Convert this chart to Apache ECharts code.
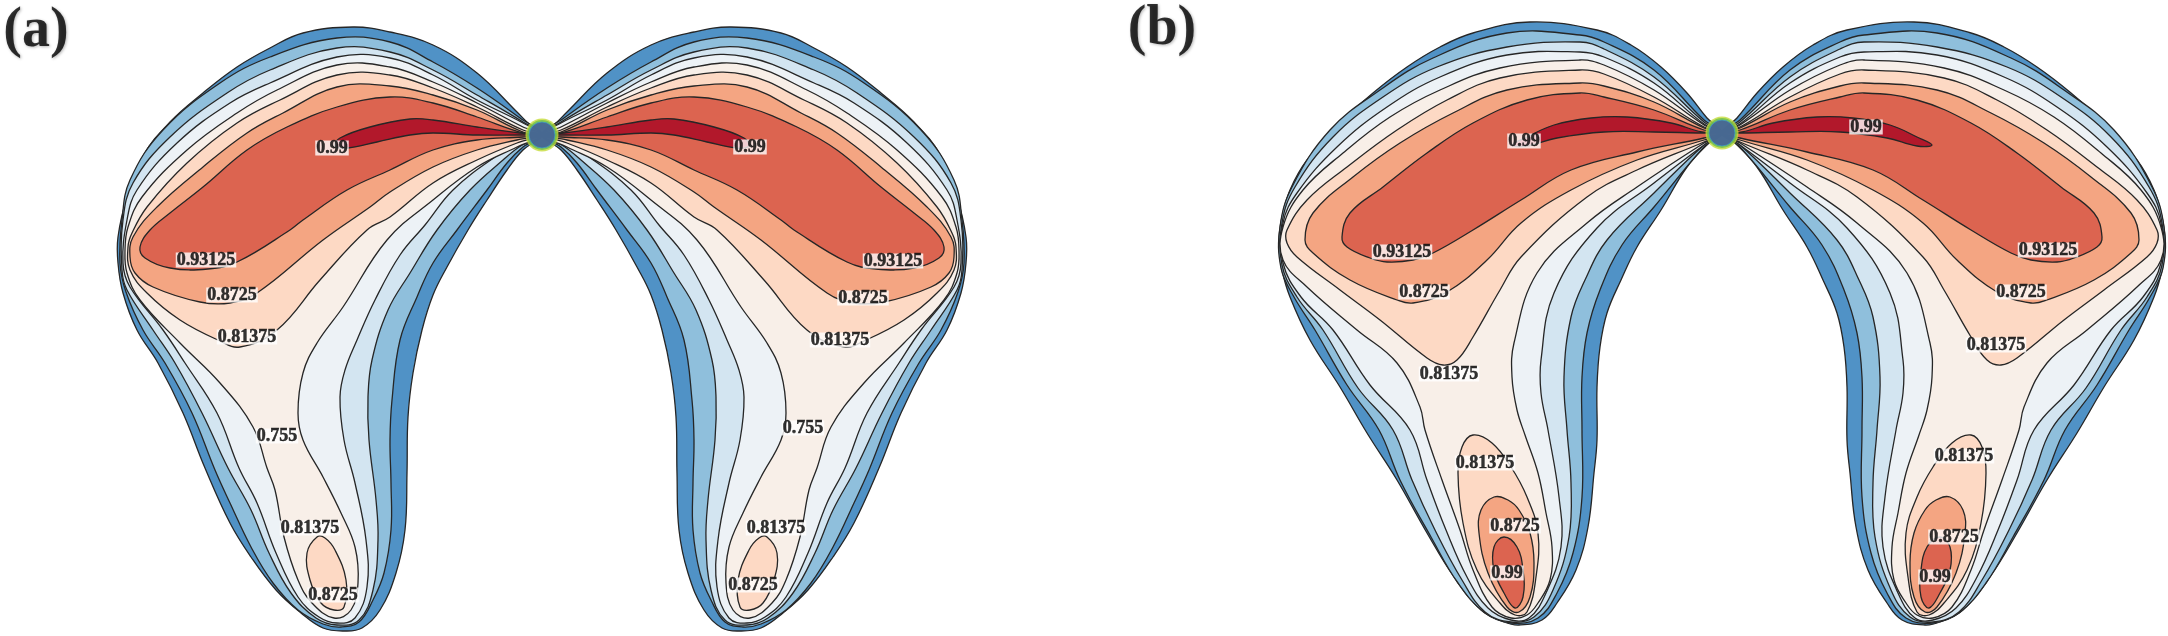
<!DOCTYPE html>
<html><head><meta charset="utf-8"><style>html,body{margin:0;padding:0;background:#fff}#c{width:2168px;height:636px}</style>
<script src="https://cdn.jsdelivr.net/npm/echarts@6/dist/echarts.min.js"></script></head><body><div id="c"></div>
<script>
const bandColors=['#5092c6','#8fbfdc','#d3e5f1','#edf2f6','#f8efe8','#fdd9c4','#f4a582','#dc6450','#b2182b'];
const centerA=[542,135], centerB=[1722,133];
// panel (a) contours, left lobe
const a0=[[528,123],[517,112],[477,73],[433,45],[390,32],[353,27],[303,33],[270,48],[237,67],[203,93],[170,122],[143,156],[127,197],[118,237],[118,263],[123,293],[137,330],[158,363],[183,413],[205,468],[230,523],[251,557],[276,590],[301,613],[323,628],[344,631],[362,628],[380,610],[396,573],[405,530],[407,473],[408,417],[413,373],[422,330],[433,295],[447,267],[468,230],[487,200],[507,170],[523,150]];
const a1=[[520,118],[477,88],[433,62],[390,42],[337,38],[270,57],[220,83],[163,130],[130,180],[122,220],[120,263],[126,292],[143,330],[165,363],[192,413],[215,470],[230,503],[251,547],[273,583],[298,610],[323,624],[341,627],[359,622],[373,600],[384,573],[391,530],[391,483],[390,440],[392,400],[400,340],[417,297],[433,263],[457,230],[487,190],[507,163],[523,147]];
const a2=[[523,122],[477,95],[433,70],[390,52],[337,48],[270,70],[227,93],[170,137],[133,183],[123,220],[122,270],[127,290],[153,330],[175,363],[202,413],[228,468],[251,510],[269,553],[291,593],[316,618],[337,625],[359,620],[373,590],[378,540],[376,500],[369,440],[368,397],[372,360],[388,310],[410,273],[437,230],[470,190],[503,160],[522,145]];
const a3=[[523,123],[477,100],[433,75],[390,58],[337,57],[270,83],[230,103],[177,143],[137,190],[127,220],[123,263],[130,287],[163,330],[185,363],[217,413],[239,468],[257,503],[276,553],[298,597],[319,617],[337,623],[355,618],[367,587],[366,540],[355,483],[344,440],[340,397],[345,370],[357,340],[375,300],[400,255],[425,225],[453,190],[495,157],[521,143]];
const a4=[[523,127],[477,103],[433,82],[390,67],[337,65],[277,90],[237,113],[187,150],[142,197],[128,227],[125,250],[127,273],[140,300],[180,343],[220,383],[253,427],[267,468],[275,490],[284,537],[298,580],[312,603],[334,618],[351,610],[358,583],[355,547],[341,513],[323,477],[303,440],[298,413],[303,373],[317,343],[343,307],[387,240],[433,200],[477,167],[517,147]];
const a5=[[523,130],[477,107],[433,88],[390,75],[337,75],[280,100],[237,123],[187,163],[147,207],[132,233],[128,247],[130,270],[147,293],[180,320],[218,340],[240,347],[277,330],[320,280],[367,230],[390,217],[433,183],[477,160],[517,143]];
const a5island=[[317,537],[307,553],[310,580],[321,603],[334,610],[344,607],[346,580],[335,550],[325,538]];
const a6=[[523,132],[477,110],[433,95],[390,86],[337,87],[283,113],[247,133],[203,167],[157,207],[133,237],[130,257],[135,273],[153,287],[200,302],[230,303],[257,293],[323,240],[370,207],[390,192],[433,167],[477,150],[517,140]];
const a7=[[523,133],[477,117],[433,103],[390,97],[337,107],[287,127],[247,150],[203,187],[170,213],[150,230],[140,247],[145,258],[170,268],[208,269],[237,262],[290,230],[303,220],[347,190],[390,170],[433,150],[477,140],[523,137]];
const a8=[[520,133],[477,127],[433,120],[410,119],[370,127],[340,138],[335,146],[348,148],[377,142],[410,135],[433,133],[477,135],[520,135]];
// panel (b) contours, left lobe
const b0=[[1707,118],[1687,93],[1661,67],[1631,45],[1597,30],[1530,22],[1473,33],[1440,47],[1407,67],[1373,93],[1340,123],[1307,160],[1290,190],[1282,217],[1279,237],[1279,247],[1282,270],[1290,297],[1310,340],[1340,387],[1367,433],[1397,480],[1427,533],[1454,577],[1481,610],[1504,622],[1519,625],[1542,620],[1557,603],[1576,570],[1588,527],[1594,473],[1597,440],[1597,387],[1600,347],[1607,313],[1621,280],[1637,247],[1661,210],[1687,167],[1709,143]];
const b1=[[1704,120],[1654,70],[1604,42],[1580,35],[1507,33],[1433,58],[1380,90],[1330,130],[1292,187],[1280,227],[1281,268],[1294,297],[1315,330],[1347,385],[1379,430],[1400,480],[1431,537],[1458,583],[1485,613],[1511,623],[1538,618],[1557,593],[1573,553],[1582,497],[1582,430],[1582,377],[1587,333],[1600,290],[1622,245],[1654,207],[1704,147]];
const b2=[[1704,122],[1654,77],[1604,49],[1580,42],[1507,47],[1437,67],[1383,97],[1333,137],[1295,187],[1282,223],[1282,265],[1297,297],[1323,330],[1358,388],[1393,430],[1412,480],[1435,530],[1462,580],[1485,612],[1511,622],[1534,617],[1553,590],[1569,537],[1571,483],[1567,430],[1564,377],[1571,317],[1585,280],[1607,240],[1654,193],[1704,145]];
const b3=[[1704,124],[1654,83],[1604,57],[1580,52],[1507,55],[1440,77],[1387,107],[1337,147],[1297,193],[1283,223],[1283,263],[1301,297],[1333,330],[1370,385],[1410,430],[1427,480],[1446,530],[1467,577],[1488,608],[1511,620],[1529,618],[1546,593],[1561,547],[1559,497],[1548,430],[1541,393],[1541,360],[1554,293],[1597,228],[1654,183],[1704,145]];
const b4=[[1704,125],[1654,90],[1604,65],[1580,60],[1500,68],[1440,90],[1390,117],[1343,153],[1303,190],[1283,227],[1283,260],[1307,287],[1357,330],[1397,363],[1420,407],[1425,430],[1442,480],[1460,530],[1473,570],[1492,607],[1511,618],[1527,615],[1538,603],[1550,580],[1552,547],[1546,513],[1538,473],[1525,435],[1517,410],[1512,377],[1514,343],[1537,273],[1587,223],[1637,187],[1704,143]];
const b5=[[1704,127],[1654,97],[1604,74],[1580,70],[1500,78],[1447,100],[1397,130],[1347,167],[1307,200],[1287,230],[1287,243],[1297,257],[1340,290],[1380,320],[1427,358],[1443,365],[1457,360],[1473,337],[1500,290],[1521,257],[1587,197],[1637,170],[1704,142]];
const b5island=[[1473,435],[1462,447],[1458,473],[1463,523],[1477,570],[1500,603],[1515,615],[1527,612],[1536,577],[1538,533],[1527,497],[1511,467],[1492,443]];
const b6=[[1704,128],[1654,102],[1604,86],[1580,83],[1507,90],[1453,113],[1400,143],[1353,177],[1313,213],[1305,240],[1313,253],[1350,280],[1397,300],[1413,303],[1447,292],[1487,260],[1521,223],[1571,190],[1637,160],[1704,140]];
const b6island=[[1494,497],[1481,510],[1479,533],[1488,573],[1507,607],[1519,612],[1530,597],[1534,563],[1530,533],[1519,510],[1508,500]];
const b7=[[1704,130],[1654,110],[1604,97],[1580,93],[1527,100],[1473,123],[1427,153],[1383,187],[1350,213],[1342,237],[1347,247],[1370,258],[1387,262],[1413,260],[1433,253],[1473,230],[1521,200],[1571,170],[1637,152],[1704,138]];
const b7island=[[1504,537],[1494,547],[1494,570],[1504,593],[1515,608],[1523,597],[1523,570],[1517,547]];
const b8=[[1702,132],[1671,123],[1627,117],[1591,118],[1554,125],[1527,137],[1512,145],[1527,146],[1557,138],[1604,132],[1654,132],[1702,133]];
// contour labels: [text, x, y]
const labelTexts=[
['0.99',332,148],['0.93125',206,260],['0.8725',232,295],['0.81375',247,337],['0.755',277,436],['0.81375',310,528],['0.8725',333,595],
['0.99',750,147],['0.93125',893,261],['0.8725',863,298],['0.81375',840,340],['0.755',803,428],['0.81375',776,528],['0.8725',753,585],
['0.99',1524,141],['0.93125',1402,252],['0.8725',1424,292],['0.81375',1449,374],['0.81375',1485,463],['0.8725',1515,526],['0.99',1507,573],
['0.99',1866,127],['0.93125',2048,250],['0.8725',2021,292],['0.81375',1996,345],['0.81375',1964,456],['0.8725',1954,537],['0.99',1935,577]];
const panelTitles=[['(a)',36,32],['(b)',1162,30]];

const shapes=[];
function lobe(list,c){
  list.forEach(([pts,band,pinch])=>{
    shapes.push({band,pts:pinch?[c].concat(pts):pts});
    const m=pts.map(p=>[2*c[0]-p[0],p[1]]);
    shapes.push({band,pts:pinch?[c].concat(m):m});
  });
}
lobe([[a0,0,1],[a1,1,1],[a2,2,1],[a3,3,1],[a4,4,1],[a5,5,1],[a5island,5,0],[a6,6,1],[a7,7,1],[a8,8,1]],centerA);
lobe([[b0,0,1],[b1,1,1],[b2,2,1],[b3,3,1],[b4,4,1],[b5,5,1],[b5island,5,0],[b6,6,1],[b6island,6,0],[b7,7,1],[b7island,7,0],[b8,8,1]],centerB);

const chart=echarts.init(document.getElementById('c'),null,{renderer:'canvas'});
const serif='Liberation Serif';
chart.setOption({
 animation:false,backgroundColor:'#fff',
 grid:{left:0,right:0,top:0,bottom:0},
 xAxis:{type:'value',min:0,max:2168,show:false},
 yAxis:{type:'value',min:0,max:636,inverse:true,show:false},
 series:[
 {type:'custom',coordinateSystem:'cartesian2d',clip:false,silent:true,z:1,
  data:shapes.map((s,i)=>[i]),
  encode:{x:0},
  renderItem(params,api){
    const s=shapes[api.value(0)];
    return {type:'polygon',shape:{points:s.pts.map(p=>api.coord(p)),smooth:0.4},
      style:{fill:bandColors[s.band],stroke:'#262626',lineWidth:1.3,lineJoin:'round'}};
  }},
 {type:'scatter',z:3,silent:true,symbolSize:33,itemStyle:{color:'#c6dc3a'},data:[centerA,centerB]},
 {type:'scatter',z:4,silent:true,symbolSize:30,itemStyle:{color:'#6fbf4a'},data:[centerA,centerB]},
 {type:'scatter',z:5,silent:true,symbolSize:26,itemStyle:{color:'#3b53a4',borderColor:'#3f9fc0',borderWidth:1},data:[centerA,centerB]},
 {type:'scatter',z:6,silent:true,symbolSize:0,
  data:labelTexts.map(l=>({name:l[0],value:[l[1],l[2]]})),
  label:{show:true,position:'inside',formatter:p=>p.name,fontFamily:serif,fontWeight:'bold',fontSize:18,color:'#000',
    textBorderColor:'#000',textBorderWidth:0.5,
    backgroundColor:'#fff',padding:[0,1,0,1],lineHeight:15}},
 {type:'scatter',z:7,silent:true,symbolSize:0,
  data:panelTitles.map(l=>({name:l[0],value:[l[1],l[2]]})),
  label:{show:true,position:'inside',formatter:p=>p.name,fontFamily:serif,fontWeight:'bold',fontSize:56,color:'#000',
    textShadowColor:'rgba(0,0,0,0.35)',textShadowBlur:3,textShadowOffsetX:1,textShadowOffsetY:1}}
 ]
});
</script></body></html>
